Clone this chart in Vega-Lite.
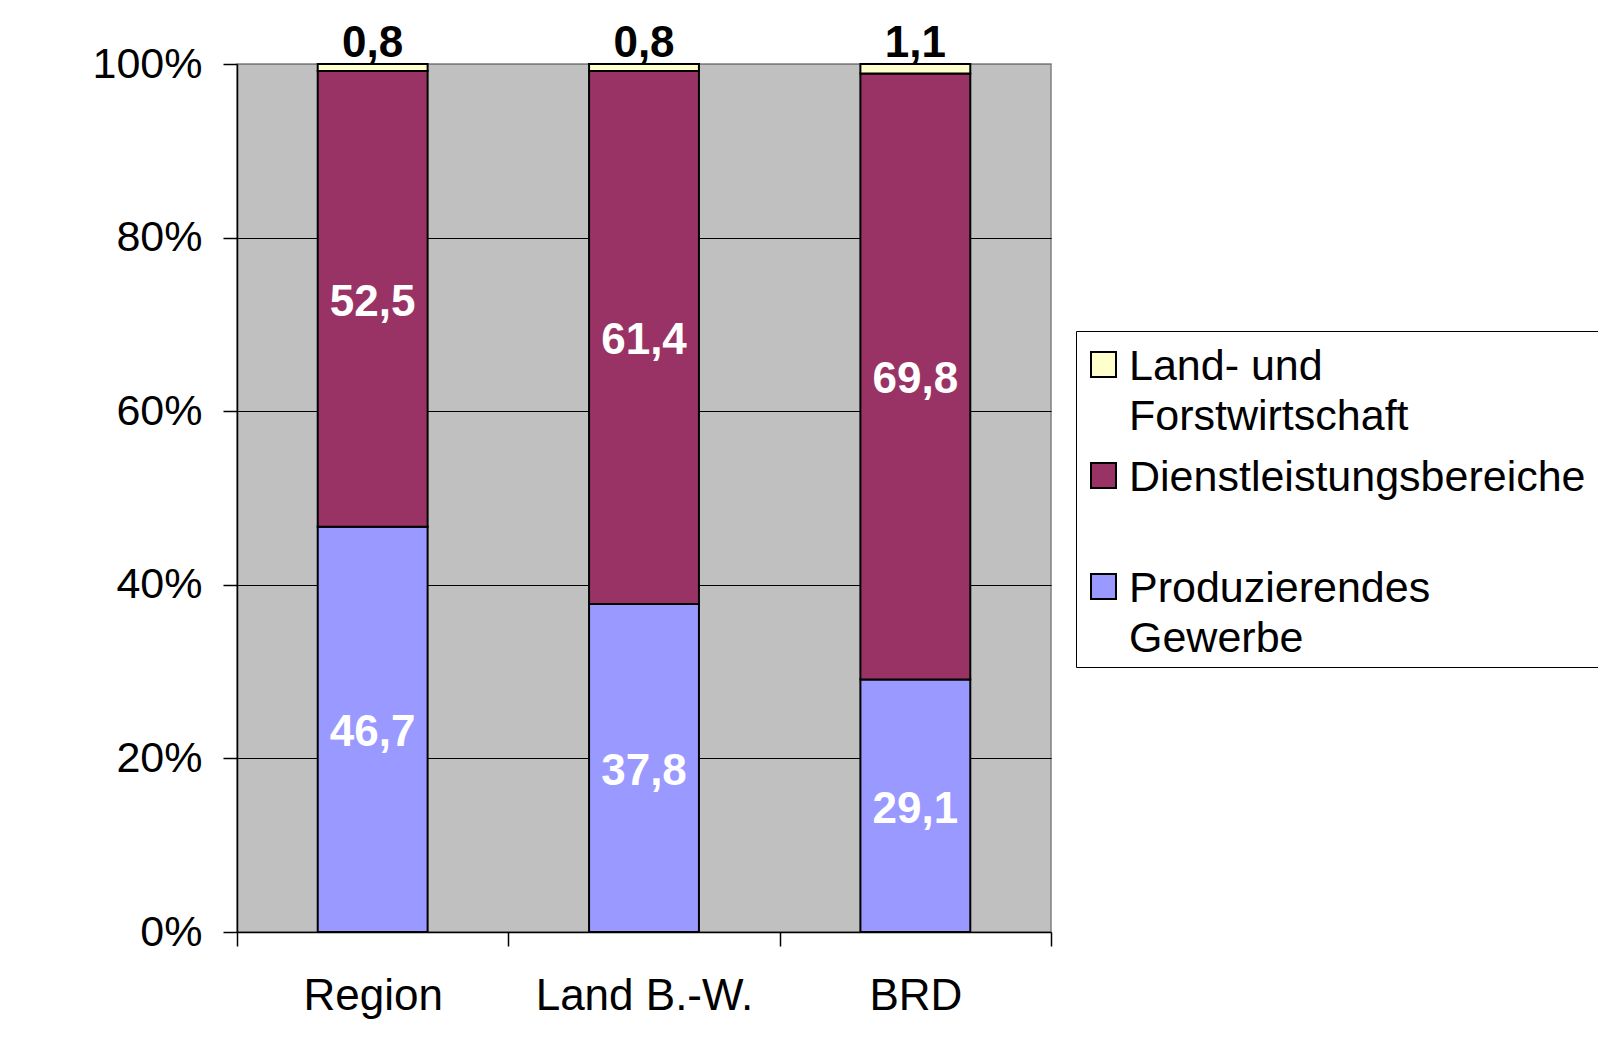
{
  "$schema": "https://vega.github.io/schema/vega-lite/v6.json",
  "width": 814,
  "height": 868,
  "autosize": "none",
  "padding": {"left": 237, "top": 64, "right": 547, "bottom": 117},
  "background": "white",
  "config": {
    "font": "Liberation Sans",
    "locale": {"number": {"decimal": ",", "thousands": ".", "grouping": [3], "currency": ["", " €"]}},
    "view": {"fill": "#C0C0C0", "stroke": "#808080", "strokeWidth": 1.5}
  },
  "data": {
    "values": [
      {"region": "Region", "sector": "Produzierendes Gewerbe", "value": 46.7},
      {"region": "Region", "sector": "Dienstleistungsbereiche", "value": 52.5},
      {"region": "Region", "sector": "Land- und Forstwirtschaft", "value": 0.8},
      {"region": "Land B.-W.", "sector": "Produzierendes Gewerbe", "value": 37.8},
      {"region": "Land B.-W.", "sector": "Dienstleistungsbereiche", "value": 61.4},
      {"region": "Land B.-W.", "sector": "Land- und Forstwirtschaft", "value": 0.8},
      {"region": "BRD", "sector": "Produzierendes Gewerbe", "value": 29.1},
      {"region": "BRD", "sector": "Dienstleistungsbereiche", "value": 69.8},
      {"region": "BRD", "sector": "Land- und Forstwirtschaft", "value": 1.1}
    ]
  },
  "transform": [
    {"calculate": "indexof(['Produzierendes Gewerbe', 'Dienstleistungsbereiche', 'Land- und Forstwirtschaft'], datum.sector)", "as": "stackOrder"}
  ],
  "encoding": {
    "x": {
      "field": "region",
      "type": "nominal",
      "sort": ["Region", "Land B.-W.", "BRD"],
      "scale": {"paddingInner": 0, "paddingOuter": 0},
      "axis": {
        "title": null,
        "labelAngle": 0,
        "labelFontSize": 44,
        "labelColor": "black",
        "labelLimit": 500,
        "tickBand": "extent",
        "tickSize": 14,
        "tickColor": "black",
        "tickWidth": 1.5,
        "domainColor": "black",
        "domainWidth": 1.5,
        "labelPadding": 28
      }
    }
  },
  "layer": [
    {
      "mark": {"type": "bar", "stroke": "black", "strokeWidth": 2, "width": {"band": 0.405}},
      "encoding": {
        "y": {
          "field": "value",
          "type": "quantitative",
          "stack": "normalize",
          "axis": {
            "title": null,
            "format": ".0%",
            "values": [0, 0.2, 0.4, 0.6, 0.8, 1],
            "labelFontSize": 43,
            "labelColor": "black",
            "tickSize": 14,
            "tickColor": "black",
            "tickWidth": 1.5,
            "domainColor": "black",
            "domainWidth": 1.5,
            "grid": true,
            "gridColor": {"condition": {"test": "datum.value >= 1", "value": "#808080"}, "value": "black"},
            "gridWidth": 1,
            "labelPadding": 21
          }
        },
        "order": {"field": "stackOrder", "type": "quantitative", "sort": "ascending"},
        "color": {
          "field": "sector",
          "type": "nominal",
          "scale": {
            "domain": ["Land- und Forstwirtschaft", "Dienstleistungsbereiche", "Produzierendes Gewerbe"],
            "range": ["#FFFFCC", "#993366", "#9999FF"]
          },
          "legend": {
            "title": " ",
            "titleFontSize": 1,
            "titlePadding": 5,
            "orient": "none",
            "legendX": 839,
            "legendY": 267,
            "fillColor": "white",
            "strokeColor": "black",
            "padding": 6,
            "symbolType": "square",
            "symbolSize": 625,
            "symbolStrokeColor": "black",
            "symbolStrokeWidth": 2,
            "labelFontSize": 43,
            "labelColor": "black",
            "labelLimit": 0,
            "labelOffset": 4,
            "rowPadding": 15,
            "labelBaseline": "alphabetic",
            "labelExpr": "datum.label == 'Land- und Forstwirtschaft' ? ['Land- und', 'Forstwirtschaft'] : datum.label == 'Produzierendes Gewerbe' ? ['Produzierendes', 'Gewerbe'] : ['Dienstleistungsbereiche\u2800\u2800', '\u2800']",
            "encode": {"labels": {"update": {"dy": {"value": 15}, "lineHeight": {"value": 50}}}}
          }
        }
      }
    },
    {
      "mark": {"type": "text", "fontWeight": "bold", "fontSize": 44, "baseline": "middle", "dy": 4, "color": "white"},
      "encoding": {
        "y": {"field": "value", "type": "quantitative", "stack": "normalize", "bandPosition": 0.5},
        "order": {"field": "stackOrder", "type": "quantitative", "sort": "ascending"},
        "detail": {"field": "sector", "type": "nominal"},
        "text": {
          "condition": {"test": "datum.sector == 'Land- und Forstwirtschaft'", "value": ""},
          "field": "value",
          "type": "quantitative",
          "format": ".1f"
        }
      }
    },
    {
      "transform": [{"filter": "datum.sector == 'Land- und Forstwirtschaft'"}],
      "mark": {"type": "text", "fontWeight": "bold", "fontSize": 44, "baseline": "alphabetic", "dy": -7, "color": "black"},
      "encoding": {
        "y": {"datum": 1, "type": "quantitative"},
        "text": {"field": "value", "type": "quantitative", "format": ".1f"}
      }
    }
  ]
}
